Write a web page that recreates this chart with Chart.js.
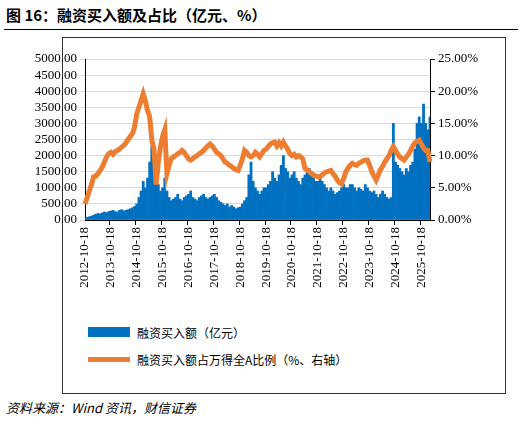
<!DOCTYPE html>
<html><head><meta charset="utf-8">
<script src="https://cdn.jsdelivr.net/npm/chart.js@4"></script>
<style>
body{margin:0;width:522px;height:422px;background:#fff;position:relative;font-family:"Noto Sans CJK SC",sans-serif;overflow:hidden}
#title{position:absolute;left:6px;top:4px;font-size:15px;font-weight:bold;color:#000}
#rule{position:absolute;left:4px;right:4px;top:29px;border-top:1.5px solid #000}
#frame{position:absolute;left:62px;top:37px;width:442px;height:355px;border:1px solid #333}
#wrap{position:absolute;left:0;top:40px;width:522px;height:280px}
.lg{position:absolute;left:137px;font-size:12px;color:#000}
#src{position:absolute;left:6px;top:398px;font-size:13px;font-style:italic;color:#000}
</style></head><body>
<div id="title">图 16：融资买入额及占比（亿元、%）</div>
<div id="rule"></div>
<div id="frame"></div>
<div id="wrap"><canvas id="c"></canvas></div>
<div style="position:absolute;left:88px;top:327px;width:42px;height:10px;background:#0070c0"></div>
<div class="lg" style="top:324px">融资买入额（亿元）</div>
<div style="position:absolute;left:88px;top:357px;width:42px;height:5px;background:#ed7d31"></div>
<div class="lg" style="top:351px">融资买入额占万得全A比例（%、右轴）</div>
<div id="src">资料来源：Wind 资讯，财信证券</div>
<script>
// monthly, starting 2012-10
const START_YEAR = 2012, START_MONTH = 10;
const buyAmount = [
  60,80,100,120,150,180,200,190,220,250,230,260,
  280,300,260,250,300,320,280,300,320,350,380,420,
  500,700,900,1200,1000,1300,1800,2300,2100,1400,1100,900,
  1000,1300,900,700,600,650,
  700,800,650,600,700,750,800,900,700,650,600,700,
  750,800,700,650,700,750,800,700,600,550,500,450,
  500,400,450,400,350,380,
  400,500,600,700,1400,1800,1200,1000,900,800,900,1000,
  1000,1100,1200,1500,1300,1200,1400,1700,2000,1600,1500,1300,
  1400,1500,1300,1200,1100,1300,1400,1500,1600,1500,1300,1200,
  1200,1300,1200,1100,1000,900,1000,900,800,850,900,1000,
  1100,1000,1000,1100,1100,1000,900,1000,950,900,1100,1000,
  900,850,900,800,700,800,900,800,700,650,700,3000,
  1800,1700,1600,1500,1400,1600,1500,1700,1800,2200,3000,3200,
  3000,3600,3000,2800,3200
];
const buyRatio = [
  2.5,3.5,4.5,5.5,6.7,6.8,7.2,7.7,8.2,9,9.8,10.3,
  10.5,10.2,10.6,10.8,11,11.3,11.6,12,12.5,13,13.4,14.5,
  16.5,17.5,18.5,19.6,18.5,17,16,12.4,11,5.5,9,11.4,
  13,14,7.2,8.5,9.5,9.8,
  10,10.3,10.5,10.8,10.5,10,9.5,9.3,9.5,9.8,10,10.3,
  10.5,10.8,11.2,11.5,11.8,11.5,11,10.5,10.3,10,9.5,9,
  8.8,8.5,8.3,8,7.8,7.7,8.5,9.5,10.8,10.5,10,9.8,
  10,10.5,10.2,9.8,10.3,10.8,11,11.4,11.8,12,12.1,11.5,
  12,11.5,12.1,11.5,11,10.3,10,10.2,9.8,10,9.8,9.5,
  8,7.8,7.5,7.2,7,6.8,6.7,6.7,7,7.3,7.5,7.6,
  7.7,7.2,6.8,6.2,5.8,5.6,6.5,7.5,8,8.5,8.8,8.6,
  8.5,8.8,9,9.2,9.3,9.3,8.5,7.5,6.8,6.2,7,7.8,
  8.3,9,9.5,10,10.8,11.4,10.8,10.2,9.8,9.5,9.3,9.8,
  10.2,10.8,11.5,12,12.2,12.4,11.8,11.2,10.8,10.8,9
];
const labels = buyAmount.map((_, i) => {
  const t = START_MONTH - 1 + i;
  const y = START_YEAR + Math.floor(t / 12), m = t % 12 + 1;
  return m === 10 ? `${y}-10-18` : '';
});
const numFont = { family: '"Liberation Serif", serif', size: 13 };

new Chart(document.getElementById('c'), {
  data: {
    labels,
    datasets: [
      { type: 'line', data: buyRatio, yAxisID: 'y1', borderColor: '#ed7d31', borderWidth: 5,
        pointRadius: 0, tension: 0, order: 0 },
      { type: 'bar', data: buyAmount, yAxisID: 'y', backgroundColor: '#0070c0',
        barPercentage: 1, categoryPercentage: 1, order: 1 }
    ]
  },
  options: {
    animation: false, responsive: true, maintainAspectRatio: false,
    layout: { padding: { top: 19 } },
    plugins: { legend: { display: false }, tooltip: { enabled: false } },
    scales: {
      x: {
        offset: false,
        grid: { display: true, drawOnChartArea: false, color: '#000', tickLength: 5,
          lineWidth: ctx => (ctx.tick && ctx.tick.label) ? 1 : 0 },
        border: { color: '#000' },
        ticks: { autoSkip: false, maxRotation: 90, minRotation: 90, color: '#000', font: numFont, padding: 2 },
        afterFit: s => { s.height = 100; }
      },
      y: {
        position: 'left', min: 0, max: 5000,
        ticks: { stepSize: 500, autoSkip: false, color: '#000', font: numFont, callback: v => v.toFixed(2) },
        grid: { color: '#d9d9d9', tickLength: 5 },
        border: { color: '#000' },
        afterFit: s => { s.width = 85; }
      },
      y1: {
        position: 'right', min: 0, max: 25,
        ticks: { stepSize: 5, autoSkip: false, color: '#000', font: numFont, callback: v => v.toFixed(2) + '%' },
        grid: { drawOnChartArea: false, color: '#000', tickLength: 5 },
        border: { color: '#000' },
        afterFit: s => { s.width = 92; }
      }
    }
  }
});
</script>
</body></html>
